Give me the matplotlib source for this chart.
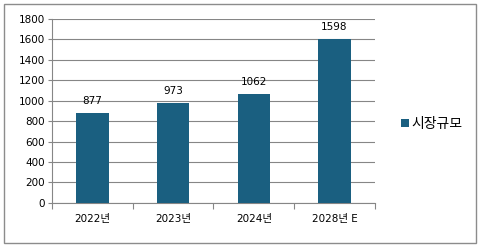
import matplotlib
matplotlib.use('Agg')
import matplotlib.pyplot as plt
from matplotlib.patches import Rectangle

plt.rcParams['font.family'] = ['DejaVu Sans', 'Noto Sans CJK KR']

# data
categories = ['2022년', '2023년', '2024년', '2028년 E']
market_size = [877, 973, 1062, 1598]
series_name = '시장규모'
y_ticks = [0, 200, 400, 600, 800, 1000, 1200, 1400, 1600, 1800]

BAR_COLOR = '#1a5f80'
GRID_COLOR = '#868686'

fig = plt.figure(figsize=(4.79, 2.46), dpi=100)
ax = fig.add_axes([0.1086, 0.175, 0.674, 0.749])

x = range(len(categories))
bars = ax.bar(x, market_size, width=0.4, color=BAR_COLOR, zorder=3)

# value labels above the bars
for xi, v in zip(x, market_size):
    ax.text(xi, v + 70, str(v), ha='center', va='bottom', fontsize=7.5)

ax.set_xlim(-0.5, len(categories) - 0.5)
ax.set_ylim(0, 1800)
ax.set_yticks(y_ticks)
ax.tick_params(axis='y', labelsize=7.5, length=3, color=GRID_COLOR, pad=2)
ax.yaxis.grid(True, color=GRID_COLOR, linewidth=0.8, zorder=0)

# category tick marks sit between categories, labels centred
ax.set_xticks([i - 0.5 for i in range(len(categories) + 1)])
ax.set_xticklabels([])
ax.tick_params(axis='x', length=4, color=GRID_COLOR)
for xi, lab in zip(x, categories):
    ax.text(xi, -0.085, lab, transform=ax.get_xaxis_transform(),
            ha='center', va='center', fontsize=7.5)

for side in ['top', 'right']:
    ax.spines[side].set_visible(False)
ax.spines['left'].set_color(GRID_COLOR)
ax.spines['bottom'].set_color(GRID_COLOR)

# legend
leg = fig.legend([bars], [series_name], loc='center left',
                 bbox_to_anchor=(0.812, 0.497), frameon=False,
                 fontsize=10, handlelength=0.55, handleheight=0.55,
                 handletextpad=0.2)

# outer chart border
fig.patches.append(Rectangle((0.009, 0.012), 0.985, 0.972, transform=fig.transFigure,
                             fill=False, edgecolor='#8c8c8c', linewidth=1.0))

fig.savefig('out.png', dpi=100)
